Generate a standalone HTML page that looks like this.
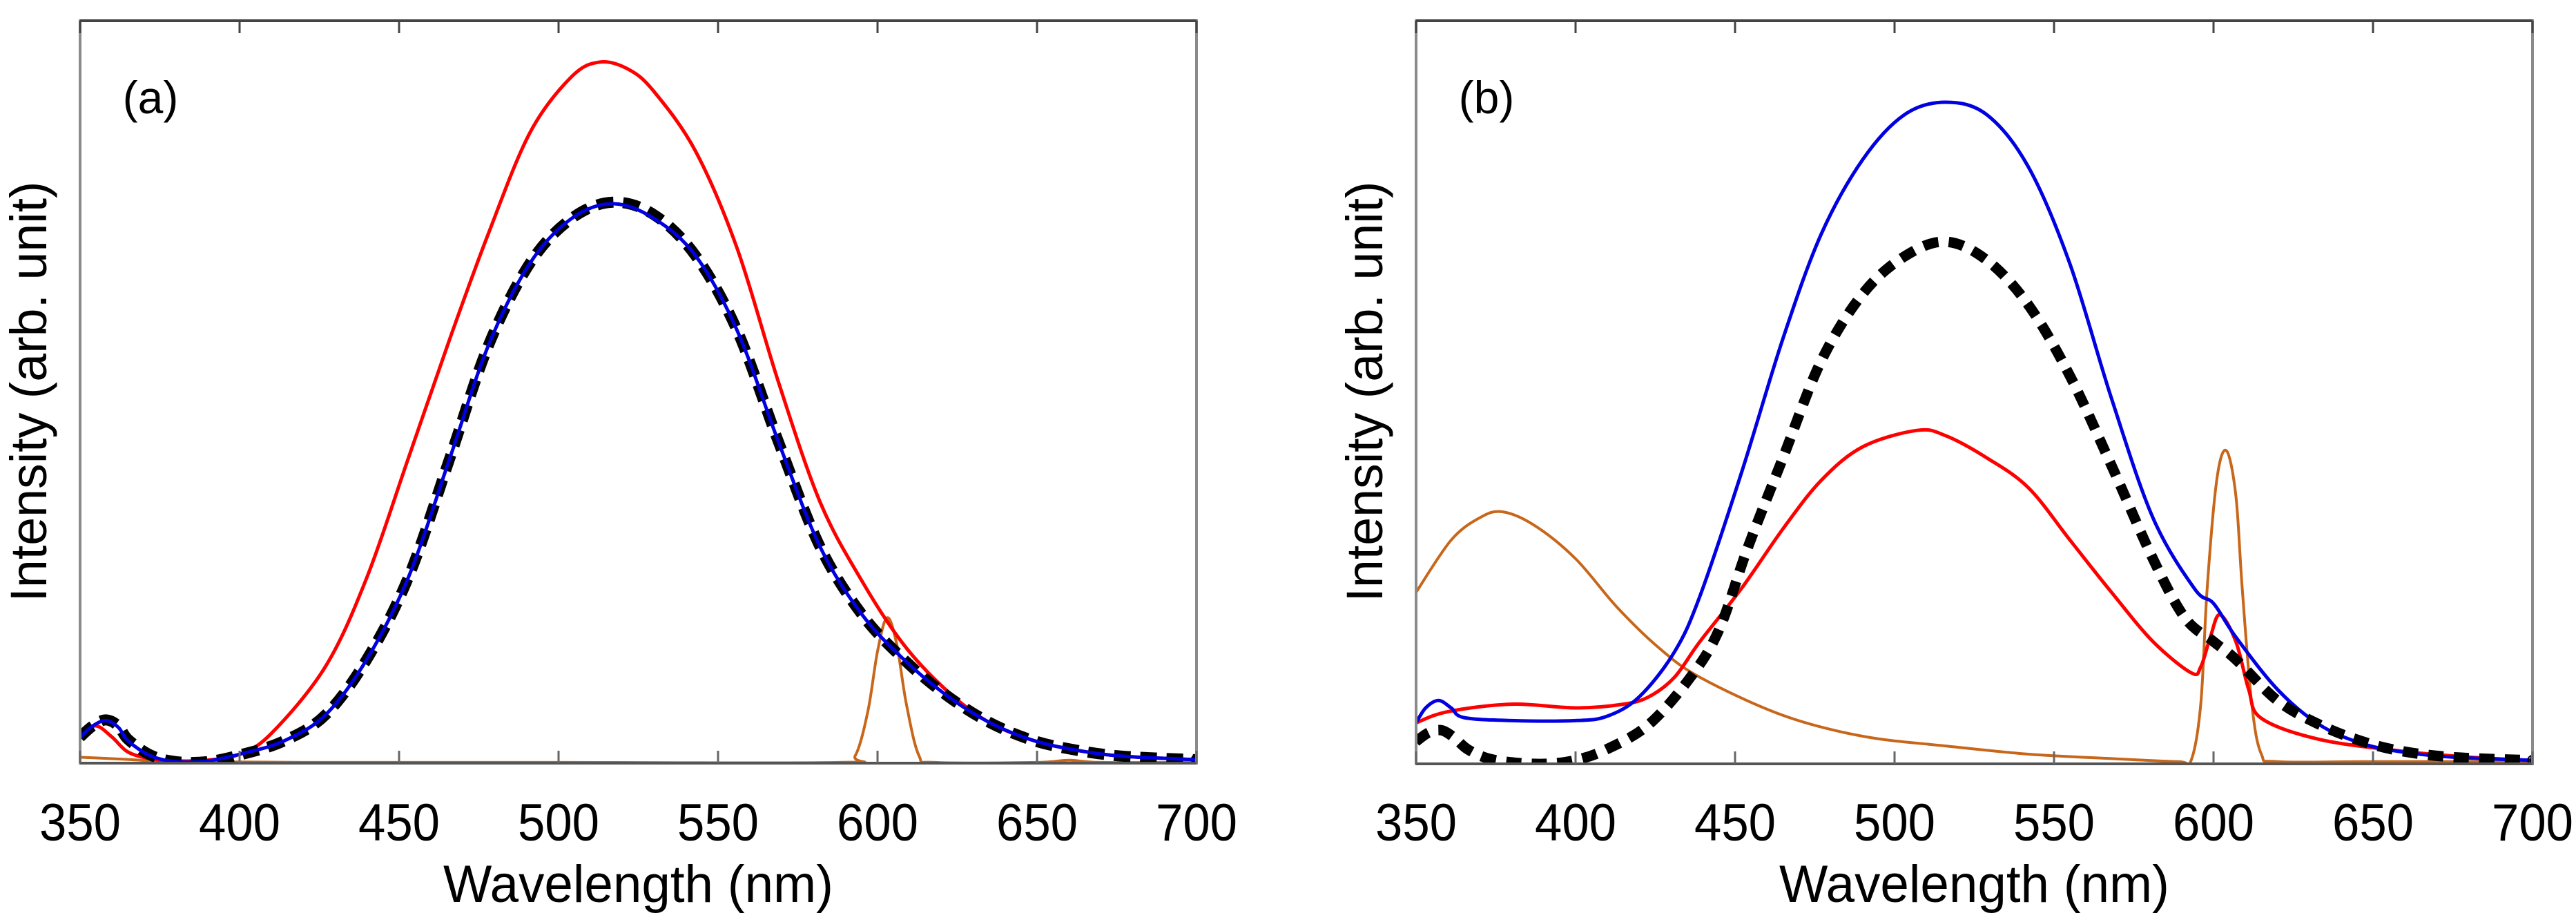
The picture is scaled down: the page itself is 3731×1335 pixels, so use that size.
<!DOCTYPE html>
<html><head><meta charset="utf-8"><style>
html,body{margin:0;padding:0;background:#fff}
svg{display:block}
text{font-family:"Liberation Sans",Arial,sans-serif;fill:#000}
</style></head><body>
<svg id="fig" width="3731" height="1335" viewBox="0 0 3731 1335" xmlns="http://www.w3.org/2000/svg"></svg>
<script>
const xTicks=[350,400,450,500,550,600,650,700];
// Panel (a)
const aRedX=[350,355,360,365,372,380,390,400,410,427,440,453,466,478,491,504,513,522,530,543,556,569,582,595,608,621,634,647,659,675,698,700];
const aRedY=[0.04,0.05,0.035,0.015,0.006,0.003,0.004,0.012,0.04,0.13,0.25,0.41,0.57,0.71,0.845,0.92,0.94,0.93,0.90,0.82,0.69,0.51,0.35,0.245,0.16,0.10,0.057,0.033,0.02,0.01,0.005,0.005];
const aBlueX=[350,354,358,362,365,372,380,390,401,414,427,440,453,466,478,491,504,517,530,543,556,569,582,595,608,621,634,647,659,675,698,700];
const aBlueY=[0.035,0.05,0.057,0.048,0.03,0.01,0.002,0.003,0.013,0.03,0.065,0.14,0.25,0.41,0.56,0.67,0.73,0.75,0.73,0.68,0.58,0.43,0.29,0.20,0.14,0.093,0.057,0.033,0.02,0.01,0.005,0.005];
const aBlackX=aBlueX;
const aBlackY=[0.035,0.05,0.058,0.05,0.032,0.011,0.002,0.002,0.012,0.03,0.065,0.14,0.25,0.41,0.56,0.67,0.73,0.752,0.735,0.68,0.58,0.43,0.29,0.20,0.14,0.093,0.057,0.033,0.02,0.01,0.005,0.005];
const aOrangeX=[350,365,380,420,500,588,593,597,600,603,606,609,613,618,650,660,670,700];
const aOrangeY=[0.008,0.005,0.002,0.001,0.001,0.001,0.01,0.07,0.15,0.195,0.16,0.08,0.01,0.001,0.001,0.004,0.001,0.001];
// Panel (b)
const bBlueX=[350,353,357,361,365,380,400,410,420,431,439,452,465,477,490,503,516,529,542,555,568,581,594,600,607,620,633,646,659,675,698,700];
const bBlueY=[0.055,0.075,0.085,0.075,0.062,0.058,0.058,0.064,0.09,0.15,0.225,0.39,0.57,0.71,0.81,0.87,0.887,0.87,0.80,0.67,0.49,0.33,0.235,0.215,0.17,0.10,0.053,0.028,0.016,0.009,0.005,0.005];
const bRedX=[350,360,380,400,415,423,431,439,452,465,477,490,507,516,529,542,555,568,581,593,596,599,602,607,611,615,633,659,680,698,700];
const bRedY=[0.055,0.07,0.08,0.075,0.08,0.09,0.116,0.164,0.235,0.315,0.38,0.425,0.447,0.44,0.41,0.37,0.30,0.23,0.164,0.122,0.13,0.17,0.20,0.164,0.1,0.061,0.033,0.017,0.009,0.005,0.005];
const bBlackX=[350,354,358,362,366,372,380,390,400,410,423,436,445,454,465,477,490,503,516,529,542,555,568,581,591,600,607,620,633,646,659,675,698,700];
const bBlackY=[0.03,0.042,0.045,0.035,0.02,0.008,0.002,0.0,0.005,0.02,0.053,0.116,0.18,0.29,0.41,0.54,0.63,0.68,0.70,0.675,0.615,0.52,0.40,0.275,0.196,0.164,0.14,0.085,0.053,0.031,0.017,0.009,0.005,0.005];
const bOrangeX=[350,361,370,377,387,400,413,426,439,465,490,516,542,568,589,593,596,598,601,604,607,609,612,615,620,650,700];
const bOrangeY=[0.23,0.30,0.33,0.338,0.32,0.275,0.21,0.156,0.116,0.065,0.037,0.024,0.013,0.007,0.003,0.005,0.08,0.235,0.38,0.42,0.36,0.235,0.08,0.013,0.003,0.003,0.003];

const NS="http://www.w3.org/2000/svg";
const svg=document.getElementById('fig');
function mk(tag,attrs,parent){const e=document.createElementNS(NS,tag);for(const k in attrs)e.setAttribute(k,attrs[k]);(parent||svg).appendChild(e);return e;}
function spline(pts){let d='M'+pts[0][0].toFixed(1)+','+pts[0][1].toFixed(1);
 for(let i=0;i<pts.length-1;i++){const p0=pts[i-1]||pts[i],p1=pts[i],p2=pts[i+1],p3=pts[i+2]||p2;
  const c1x=p1[0]+(p2[0]-p0[0])/6,c1y=p1[1]+(p2[1]-p0[1])/6,c2x=p2[0]-(p3[0]-p1[0])/6,c2y=p2[1]-(p3[1]-p1[1])/6;
  d+=' C'+c1x.toFixed(1)+','+c1y.toFixed(1)+' '+c2x.toFixed(1)+','+c2y.toFixed(1)+' '+p2[0].toFixed(1)+','+p2[1].toFixed(1);}
 return d;}
function panel(id,left,right,top,bottom,label,series,ylx){
 const g=mk('g',{});
 
 
 const xs=v=>left+(v-350)/350*(right-left);
 const ys=v=>bottom-v*1080;
 const clipId='clip'+id;
 const cp=mk('clipPath',{id:clipId},g);mk('rect',{x:left,y:top,width:right-left,height:bottom-top},cp);
 const sg=mk('g',{'clip-path':'url(#'+clipId+')'},g);
 series.forEach(s=>{
  const pts=s.x.map((v,i)=>[xs(v),ys(s.y[i])]);
  const p=mk('path',{d:spline(pts),fill:'none',stroke:s.c,'stroke-width':s.w,'stroke-linejoin':'round'},sg);
  if(s.dash)p.setAttribute('stroke-dasharray',s.dash);
  
  
 });
 const fr=mk('rect',{x:left,y:top,width:right-left,height:bottom-top,fill:'none',stroke:'#8a8a8a','stroke-width':4},g);
 
 
 mk('line',{x1:left,y1:bottom,x2:right,y2:bottom,stroke:'#555','stroke-width':4},g);
 mk('line',{x1:left,y1:top,x2:right,y2:top,stroke:'#444','stroke-width':4},g);
 xTicks.forEach(t=>{
  const x=xs(t);
  mk('line',{x1:x,y1:bottom,x2:x,y2:bottom-18,stroke:'#666','stroke-width':3},g);
  mk('line',{x1:x,y1:top,x2:x,y2:top+18,stroke:'#444','stroke-width':3},g);
  const tx=mk('text',{x:x,y:1217,'font-size':76,'text-anchor':'middle',textLength:118,lengthAdjust:'spacingAndGlyphs'},g);
  tx.textContent=t;
  
  
 });
 const xl=mk('text',{x:(left+right)/2,y:1306,'font-size':76,'text-anchor':'middle',textLength:565,lengthAdjust:'spacingAndGlyphs'},g);
 xl.textContent='Wavelength (nm)';
 
 
 const yl=mk('text',{x:0,y:0,'font-size':74,'text-anchor':'middle',textLength:609,lengthAdjust:'spacingAndGlyphs',transform:'translate('+ylx+',567) rotate(-90)'},g);
 yl.textContent='Intensity (arb. unit)';
 
 
 const pl=mk('text',{x:left+102,y:164,'font-size':66,'text-anchor':'middle'},g);
 pl.textContent=label;
 
 
}
panel('a',116,1733,30,1105,'(a)',[
 {x:aOrangeX,y:aOrangeY,c:'#c8661a',w:4,name:'orange-series-a'},
 {x:aRedX,y:aRedY,c:'#ff0000',w:5,name:'red-series-a'},
 {x:aBlackX,y:aBlackY,c:'#000',w:16,dash:'24 14',name:'black-dashed-series-a'},
 {x:aBlueX,y:aBlueY,c:'#0000e0',w:5,name:'blue-series-a'}
],67);
panel('b',2051,3668,30,1106,'(b)',[
 {x:bOrangeX,y:bOrangeY,c:'#c8661a',w:4,name:'orange-series-b'},
 {x:bRedX,y:bRedY,c:'#ff0000',w:5,name:'red-series-b'},
 {x:bBlueX,y:bBlueY,c:'#0000e0',w:5,name:'blue-series-b'},
 {x:bBlackX,y:bBlackY,c:'#000',w:15,dash:'22 15',name:'black-dashed-series-b'}
],2002);
</script>
</body></html>
